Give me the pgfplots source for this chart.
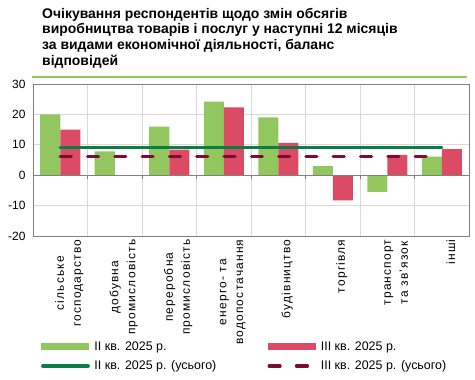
\documentclass[border=0pt]{standalone}
\usepackage{fontspec}
\setmainfont{Liberation Sans}
\usepackage{pgfplots}
\pgfplotsset{compat=1.18}
\definecolor{barG}{HTML}{92C75F}
\definecolor{barR}{HTML}{DC4B64}
\definecolor{lineG}{HTML}{0B7E46}
\definecolor{lineR}{HTML}{7D0C34}
\definecolor{gridc}{HTML}{D9D9D9}
\definecolor{framec}{HTML}{808080}
\begin{document}
\begin{tikzpicture}
\path[use as bounding box] (0bp,0bp) rectangle (475bp,380bp);
\node[anchor=north west, align=left, inner sep=0, font=\fontsize{14}{15.6}\selectfont\bfseries] at (42bp,372bp)
 {Очікування респондентів щодо змін обсягів\\виробництва товарів і послуг у наступні 12 місяців\\за видами економічної діяльності, баланс\\відповідей};
\draw[barG, line width=1.5bp] (32bp,303bp) -- (467bp,303bp);
\begin{axis}[
  at={(33bp,144bp)}, anchor=south west, scale only axis,
  width=436bp, height=152bp,
  xmin=-0.5, xmax=7.5, ymin=-20, ymax=30,
  ytick={-20,-10,0,10,20,30},
  xtick={0,1,2,3,4,5,6,7},
  xticklabels={{сільське\\господарство},{добувна\\промисловість},{переробна\\промисловість},{енерго- та\\водопостачання},{будівництво},{торгівля},{транспорт\\та зв’язок},{інші}},
  minor xtick={0.5,1.5,2.5,3.5,4.5,5.5,6.5},
  xminorgrids, ymajorgrids,
  minor grid style={gridc, line width=0.8bp},
  major grid style={gridc, line width=0.8bp},
  tick style={draw=none},
  axis line style={framec, line width=1bp},
  yticklabel style={font=\fontsize{12}{14}\selectfont, xshift=-4bp},
  xticklabel style={font=\fontsize{12}{17}\selectfont\addfontfeatures{LetterSpace=10}, rotate=90, anchor=east, align=center, yshift=-9bp},
  /pgf/number format/assume math mode=true,
  legend columns=2,
  legend cell align=left,
  legend style={at={(0.011,-0.68)}, anchor=north west, draw=none, fill=none,
    font=\fontsize{12.5}{14}\selectfont, inner sep=0pt, row sep=5bp,
    /tikz/every even column/.append style={column sep=46bp}},
]
\addplot[fill=barG, draw=none, ybar, bar width=0.367, bar shift=-0.1835,
  legend image code/.code={\draw[barG, line width=6.5bp] (0bp,0bp) -- (48bp,0bp);}]
  coordinates {(0,20.0) (1,7.8) (2,16.0) (3,24.2) (4,19.0) (5,3.0) (6,-5.5) (7,6.1)};
\addlegendentry{II кв. 2025 р.}
\addplot[fill=barR, draw=none, ybar, bar width=0.367, bar shift=0.1835,
  legend image code/.code={\draw[barR, line width=6.5bp] (0bp,0bp) -- (48bp,0bp);}]
  coordinates {(0,15.0) (2,8.4) (3,22.3) (4,10.6) (5,-8.3) (6,6.7) (7,8.6)};
\addlegendentry{III кв. 2025 р.}
\addplot[lineG, line width=3.2bp, line cap=round, mark=none,
  legend image code/.code={\draw[lineG, line width=3.2bp, line cap=round] (1.5bp,0bp) -- (47bp,0bp);}]
  coordinates {(0,9.2) (7,9.2)};
\addlegendentry{II кв. 2025 р. (усього)}
\addplot[lineR, line width=3.2bp, line cap=round, dash pattern=on 11bp off 16.3bp, mark=none,
  legend image code/.code={\draw[lineR, line width=3.2bp, line cap=round, dash pattern=on 11bp off 16.3bp] (1.5bp,0bp) -- (47bp,0bp);}]
  coordinates {(0,6.1) (7,6.1)};
\addlegendentry{III кв. 2025 р. (усього)}
\draw[framec, line width=1bp] (axis cs:-0.5,0) -- (axis cs:7.5,0);
\pgfplotsinvokeforeach{0.5,1.5,2.5,3.5,4.5,5.5,6.5}{
  \draw[framec, line width=1bp] (axis cs:#1,0) -- ([yshift=-3.5bp]axis cs:#1,0);
}
\end{axis}
\end{tikzpicture}
\end{document}
